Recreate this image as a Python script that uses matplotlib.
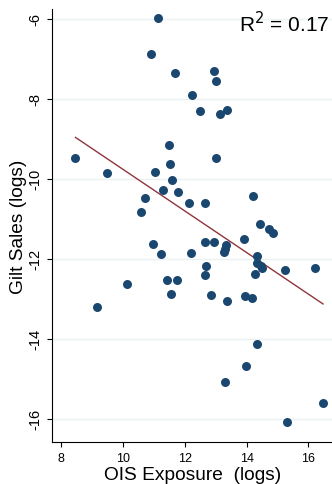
import numpy as np
import matplotlib.pyplot as plt

plt.rcParams['font.family'] = ['Liberation Sans', 'DejaVu Sans']
plt.rcParams['axes.unicode_minus'] = False

# OIS exposure (logs) and gilt sales (logs)
ois = np.array([11.15, 10.90, 11.70, 12.95, 13.01, 12.25, 12.51, 13.14, 13.38,
                11.50, 8.47, 13.02, 11.53, 9.49, 11.04, 11.58, 11.31, 11.79,
                10.71, 12.13, 12.64, 14.22, 10.58, 14.43, 14.73, 14.85, 13.90,
                10.97, 12.65, 12.94, 13.33, 13.31, 13.27, 11.23, 12.19, 14.35,
                14.35, 14.46, 14.51, 12.70, 12.65, 14.26, 15.23, 16.20, 10.12,
                11.43, 11.74, 11.57, 12.86, 13.94, 14.16, 13.37, 9.16, 14.32,
                13.98, 13.31, 16.47, 15.30])
gilt = np.array([-5.97, -6.88, -7.36, -7.31, -7.56, -7.91, -8.31, -8.39, -8.28,
                 -9.16, -9.49, -9.48, -9.64, -9.86, -9.83, -10.03, -10.28, -10.33,
                 -10.48, -10.61, -10.61, -10.43, -10.82, -11.14, -11.26, -11.35, -11.50,
                 -11.64, -11.59, -11.59, -11.66, -11.76, -11.84, -11.87, -11.85, -11.92,
                 -12.11, -12.17, -12.24, -12.19, -12.40, -12.37, -12.27, -12.22, -12.62,
                 -12.54, -12.52, -12.88, -12.91, -12.92, -12.97, -13.05, -13.20, -14.12,
                 -14.67, -15.07, -15.61, -16.09])
r2_label = 'R$^2$ = 0.17'

fig = plt.figure(figsize=(3.32, 4.85), dpi=100)
ax = fig.add_axes([0.1575, 0.086, 0.8425, 0.893])

ax.scatter(ois, gilt, s=42, color='#1a476f', linewidths=0, zorder=3)

# linear fit over the observed range
b, a = np.polyfit(ois, gilt, 1)
xf = np.array([ois.min(), ois.max()])
ax.plot(xf, a + b * xf, color='#90353b', lw=1.0, zorder=2)

ax.set_xlim(7.72, 16.76)
ax.set_ylim(-16.59, -5.76)
ax.set_xticks([8, 10, 12, 14, 16])
ax.set_yticks([-16, -14, -12, -10, -8, -6])
ax.yaxis.grid(True, color='#eaf2f3', lw=1.0)
ax.set_axisbelow(True)
for s in ['top', 'right']:
    ax.spines[s].set_visible(False)
ax.tick_params(length=3.8, width=0.8, pad=3.4)
ax.tick_params(axis='x', labelsize=9)
ax.tick_params(axis='y', labelsize=10.5)
plt.setp(ax.get_yticklabels(), rotation=90, va='center')

ax.set_xlabel('OIS Exposure  (logs)', fontsize=13.8, labelpad=1)
ax.set_ylabel('Gilt Sales (logs)', fontsize=13.8, labelpad=1)
ax.text(0.993, 0.998, r2_label, transform=ax.transAxes, ha='right', va='top',
        fontsize=15)

fig.savefig('out.png', dpi=100)
